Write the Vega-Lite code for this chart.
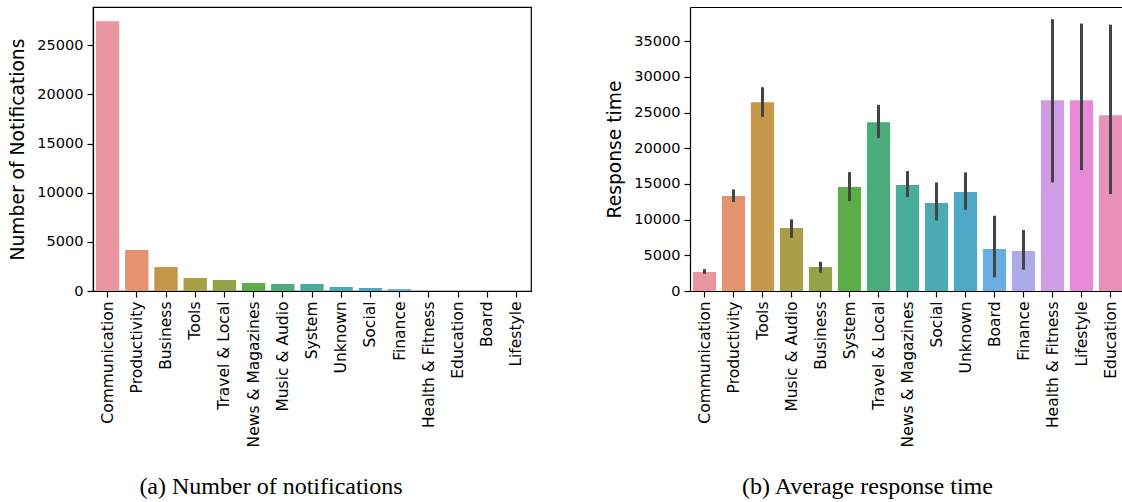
{
  "$schema": "https://vega.github.io/schema/vega-lite/v6.json",
  "background": "white",
  "padding": {"left": 8, "top": 6, "right": 0, "bottom": 0},
  "spacing": 73,
  "resolve": {"scale": {"color": "independent"}},
  "datasets": {
    "counts": [
      {"category": "Communication", "count": 27450},
      {"category": "Productivity", "count": 4175},
      {"category": "Business", "count": 2445},
      {"category": "Tools", "count": 1325},
      {"category": "Travel & Local", "count": 1120},
      {"category": "News & Magazines", "count": 815},
      {"category": "Music & Audio", "count": 713},
      {"category": "System", "count": 710},
      {"category": "Unknown", "count": 407},
      {"category": "Social", "count": 305},
      {"category": "Finance", "count": 204},
      {"category": "Health & Fitness", "count": 25},
      {"category": "Education", "count": 18},
      {"category": "Board", "count": 12},
      {"category": "Lifestyle", "count": 6}
    ],
    "response": [
      {"category": "Communication", "mean": 2660, "lo": 2400, "hi": 3070},
      {"category": "Productivity", "mean": 13300, "lo": 12460, "hi": 14240},
      {"category": "Tools", "mean": 26460, "lo": 24400, "hi": 28560},
      {"category": "Music & Audio", "mean": 8820, "lo": 7460, "hi": 10040},
      {"category": "Business", "mean": 3360, "lo": 2570, "hi": 4100},
      {"category": "System", "mean": 14560, "lo": 12600, "hi": 16660},
      {"category": "Travel & Local", "mean": 23660, "lo": 21460, "hi": 26090},
      {"category": "News & Magazines", "mean": 14840, "lo": 13160, "hi": 16800},
      {"category": "Social", "mean": 12320, "lo": 9900, "hi": 15210},
      {"category": "Unknown", "mean": 13860, "lo": 11380, "hi": 16620},
      {"category": "Board", "mean": 5880, "lo": 1920, "hi": 10540},
      {"category": "Finance", "mean": 5600, "lo": 2990, "hi": 8540},
      {"category": "Health & Fitness", "mean": 26740, "lo": 15220, "hi": 38080},
      {"category": "Lifestyle", "mean": 26740, "lo": 16940, "hi": 37480},
      {"category": "Education", "mean": 24640, "lo": 13580, "hi": 37320}
    ]
  },
  "config": {
    "font": "DejaVu Sans",
    "view": {"stroke": "#000000", "strokeWidth": 1.2},
    "axis": {
      "labelFont": "DejaVu Sans",
      "titleFont": "DejaVu Sans",
      "labelFontSize": 15.5,
      "titleFontSize": 18.7,
      "titleFontWeight": "normal",
      "labelColor": "#000000",
      "titleColor": "#000000",
      "domainColor": "#000000",
      "tickColor": "#000000",
      "domainWidth": 1.2,
      "tickWidth": 1.2,
      "tickSize": 6,
      "labelPadding": 4,
      "grid": false
    },
    "axisY": {"labelFontSize": 14.5, "titlePadding": 9},
    "title": {
      "font": "Liberation Serif",
      "fontSize": 24,
      "fontWeight": "normal",
      "color": "#000000",
      "orient": "bottom",
      "anchor": "middle",
      "offset": 28
    }
  },
  "hconcat": [
    {
      "width": 438,
      "height": 284,
      "title": {"text": "(a) Number of notifications", "dx": -41},
      "data": {"name": "counts"},
      "mark": {"type": "bar", "width": {"band": 0.8}},
      "encoding": {
        "x": {
          "field": "category",
          "type": "nominal",
          "sort": ["Communication", "Productivity", "Business", "Tools", "Travel & Local", "News & Magazines", "Music & Audio", "System", "Unknown", "Social", "Finance", "Health & Fitness", "Education", "Board", "Lifestyle"],
          "scale": {"paddingInner": 0, "paddingOuter": 0},
          "axis": {"title": null, "labelAngle": -90}
        },
        "y": {
          "field": "count",
          "type": "quantitative",
          "scale": {"domain": [0, 28900], "nice": false},
          "axis": {"title": "Number of Notifications", "values": [0, 5000, 10000, 15000, 20000, 25000], "format": "d"}
        },
        "color": {
          "field": "category",
          "type": "nominal",
          "legend": null,
          "scale": {
            "domain": ["Communication", "Productivity", "Business", "Tools", "Travel & Local", "News & Magazines", "Music & Audio", "System", "Unknown", "Social", "Finance", "Health & Fitness", "Education", "Board", "Lifestyle"],
            "range": ["#e8969f", "#e3946f", "#c59749", "#ab9e47", "#94a346", "#5cad47", "#4aad7b", "#4aad9b", "#4babb1", "#4ea9c6", "#6aade2", "#aeaae9", "#cf9ce6", "#e78bd8", "#e991b6"]
          }
        }
      }
    },
    {
      "width": 435,
      "height": 284,
      "title": {"text": "(b) Average response time", "dx": -40},
      "data": {"name": "response"},
      "view": {"stroke": null},
      "layer": [
        {
          "mark": {"type": "bar", "width": {"band": 0.8}},
          "encoding": {
            "x": {
              "field": "category",
              "type": "nominal",
              "sort": ["Communication", "Productivity", "Tools", "Music & Audio", "Business", "System", "Travel & Local", "News & Magazines", "Social", "Unknown", "Board", "Finance", "Health & Fitness", "Lifestyle", "Education"],
              "scale": {"paddingInner": 0, "paddingOuter": 0},
              "axis": {"title": null, "labelAngle": -90, "orient": "bottom"}
            },
            "y": {
              "field": "mean",
              "type": "quantitative",
              "scale": {"domain": [0, 39800], "nice": false},
              "axis": {"title": "Response time", "values": [0, 5000, 10000, 15000, 20000, 25000, 30000, 35000], "format": "d"}
            },
            "color": {
              "field": "category",
              "type": "nominal",
              "legend": null,
              "scale": {
                "domain": ["Communication", "Productivity", "Tools", "Music & Audio", "Business", "System", "Travel & Local", "News & Magazines", "Social", "Unknown", "Board", "Finance", "Health & Fitness", "Lifestyle", "Education"],
                "range": ["#e8969f", "#e3946f", "#c59749", "#ab9e47", "#94a346", "#5cad47", "#4aad7b", "#4aad9b", "#4babb1", "#4ea9c6", "#6aade2", "#aeaae9", "#cf9ce6", "#e78bd8", "#e991b6"]
              }
            }
          }
        },
        {
          "mark": {"type": "rule", "color": "#444444", "strokeWidth": 3},
          "encoding": {
            "x": {
              "field": "category",
              "type": "nominal",
              "sort": ["Communication", "Productivity", "Tools", "Music & Audio", "Business", "System", "Travel & Local", "News & Magazines", "Social", "Unknown", "Board", "Finance", "Health & Fitness", "Lifestyle", "Education"],
              "axis": {"title": null, "orient": "top", "labels": false, "ticks": false, "domain": true}
            },
            "y": {"field": "lo", "type": "quantitative"},
            "y2": {"field": "hi"}
          }
        }
      ],
      "resolve": {"axis": {"x": "independent"}}
    }
  ]
}
